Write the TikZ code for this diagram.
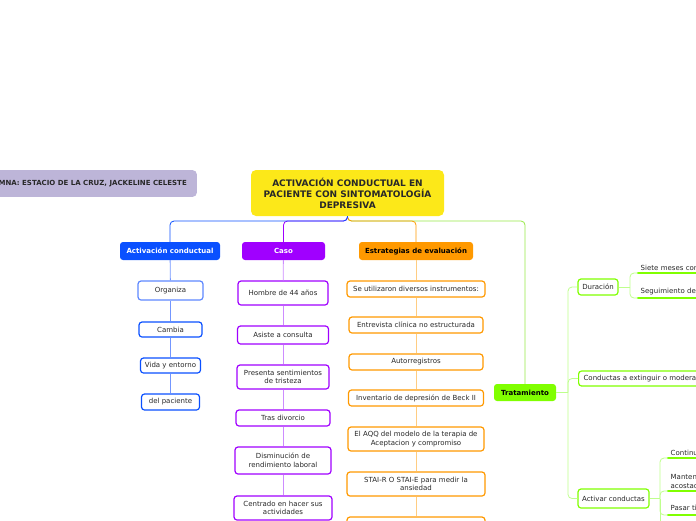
\documentclass[tikz,border=0pt]{standalone}
\usepackage{fontspec}
\setmainfont{DejaVu Sans}
\usepackage{tikz}
\usetikzlibrary{positioning}
\usepackage{xcolor}
\definecolor{rootyellow}{RGB}{252,232,25}
\definecolor{authorlav}{RGB}{189,181,216}
\definecolor{mblue}{RGB}{10,80,255}
\definecolor{mbluelight}{RGB}{115,150,255}
\definecolor{mpurple}{RGB}{160,0,255}
\definecolor{mpurplelight}{RGB}{205,140,255}
\definecolor{morange}{RGB}{255,153,0}
\definecolor{morangelight}{RGB}{255,205,130}
\definecolor{mgreen}{RGB}{128,255,0}
\definecolor{mgreenmid}{RGB}{150,232,70}
\definecolor{mgreenlight}{RGB}{190,255,140}
\definecolor{textgrey}{RGB}{40,40,40}

\begin{document}
\begin{tikzpicture}[x=1pt, y=-1pt,
    rootbox/.style={rectangle, fill=rootyellow, rounded corners=5pt,
        minimum width=193pt, minimum height=46pt, align=center,
        font=\fontsize{9}{11}\selectfont\bfseries, text=textgrey},
    headbox/.style={rectangle, rounded corners=3pt, minimum height=18pt,
        inner sep=2pt, font=\fontsize{7}{8}\selectfont\bfseries},
    leaf/.style={rectangle, draw, fill=white, line width=1.2pt,
        rounded corners=3pt, inner sep=2pt, align=center,
        font=\fontsize{7}{8.6}\selectfont, text=textgrey},
    uline/.style={rectangle, anchor=south west, inner sep=2.5pt,
        text width=70pt, align=left, font=\fontsize{7}{8.6}\selectfont, text=textgrey},
    bar/.style={line width=2.6pt, mgreen, line cap=round},
    bline/.style={mbluelight, line width=0.8pt},
    pline/.style={mpurplelight, line width=0.8pt},
    oline/.style={morangelight, line width=0.8pt},
    gline/.style={mgreenlight, line width=0.8pt, rounded corners=4pt},
    top/.style={line width=0.8pt, rounded corners=4pt}
]
    \useasboundingbox (0,0) rectangle (696,520);
    \clip (0,0) rectangle (696,520);

    % title and author
    \node[rootbox] (root) at (347.5,193) {ACTIVACIÓN CONDUCTUAL EN\\PACIENTE CON SINTOMATOLOGÍA\\DEPRESIVA};
    \node[rectangle, fill=authorlav, rounded corners=4pt, minimum height=17pt,
        inner sep=10pt, anchor=east, font=\fontsize{7}{8}\selectfont\bfseries, text=textgrey]
        (autor) at (197,183.5) {ALUMNA: ESTACIO DE LA CRUZ, JACKELINE CELESTE};

    % main branches
    \node[headbox, fill=mblue, text=white, minimum width=100pt] (act) at (170,251) {Activación conductual};
    \node[headbox, fill=mpurple, text=white, minimum width=83pt] (caso) at (283.5,251) {Caso};
    \node[headbox, fill=morange, text=black, minimum width=114pt] (est) at (416,251) {Estrategias de evaluación};
    \node[headbox, fill=mgreen, text=black, minimum width=62pt, minimum height=17pt] (trat) at (525,392.5) {Tratamiento};

    \draw[top, mgreenmid] (root.south) -- (347.5,221) -| (trat.north);
    \draw[top, morange] (root.south) -- (347.5,221) -| (est.north);
    \draw[top, mpurple] (root.south) -- (347.5,221) -| (caso.north);
    \draw[top, mblue] (root.south) -- (347.5,221) -| (act.north);

    % Activacion conductual
    \node[leaf, draw=mbluelight!80!mblue, minimum width=65pt, minimum height=19pt] (org) at (170.5,290.5) {Organiza};
    \node[leaf, draw=mblue, minimum width=63pt, minimum height=15pt] (cam) at (170.5,329.5) {Cambia};
    \node[leaf, draw=mblue, minimum width=60pt, minimum height=15pt] (vid) at (170.5,365.5) {Vida y entorno};
    \node[leaf, draw=mblue, minimum width=58pt, minimum height=16pt] (pac) at (170.5,402) {del paciente};
    \draw[bline] (act) -- (org);
    \draw[bline] (org) -- (cam);
    \draw[bline] (cam) -- (vid);
    \draw[bline] (vid) -- (pac);

    % Caso
    \node[leaf, draw=mpurple, minimum width=90pt, minimum height=24pt] (hom) at (283,293) {Hombre de 44 años};
    \node[leaf, draw=mpurple, minimum width=91pt, minimum height=18pt] (asi) at (283,335) {Asiste a consulta};
    \node[leaf, draw=mpurple, minimum width=92pt, minimum height=24pt] (pre) at (283,377) {Presenta sentimientos\\de tristeza};
    \node[leaf, draw=mpurple, minimum width=94pt, minimum height=16pt] (div) at (283,418) {Tras divorcio};
    \node[leaf, draw=mpurple, minimum width=96pt, minimum height=27pt] (dis) at (283,460.5) {Disminución de\\rendimiento laboral};
    \node[leaf, draw=mpurple, minimum width=98pt, minimum height=24pt] (cen) at (283,508) {Centrado en hacer sus\\actividades};
    \draw[pline] (caso) -- (hom);
    \draw[pline] (hom) -- (asi);
    \draw[pline] (asi) -- (pre);
    \draw[pline] (pre) -- (div);
    \draw[pline] (div) -- (dis);
    \draw[pline] (dis) -- (cen);

    % Estrategias de evaluacion
    \node[leaf, draw=morange, minimum width=138pt, minimum height=16pt] (ins) at (416,289) {Se utilizaron diversos instrumentos:};
    \node[leaf, draw=morange, minimum width=134pt, minimum height=16pt] (ent) at (416,325) {Entrevista clínica no estructurada};
    \node[leaf, draw=morange, minimum width=134pt, minimum height=16pt] (aut) at (416,362) {Autorregistros};
    \node[leaf, draw=morange, minimum width=135pt, minimum height=16pt] (bec) at (416,398) {Inventario de depresión de Beck II};
    \node[leaf, draw=morange, minimum width=136pt, minimum height=24pt] (aqq) at (416,439) {El AQQ del modelo de la terapia de\\Aceptacion y compromiso};
    \node[leaf, draw=morange, minimum width=138pt, minimum height=24pt] (sta) at (416,484) {STAI-R O STAI-E para medir la\\ansiedad};
    \node[leaf, draw=morange, minimum width=138pt, minimum height=24pt] (sig) at (416,529) {};
    \draw[oline] (est) -- (ins);
    \draw[oline] (ins) -- (ent);
    \draw[oline] (ent) -- (aut);
    \draw[oline] (aut) -- (bec);
    \draw[oline] (bec) -- (aqq);
    \draw[oline] (aqq) -- (sta);
    \draw[oline] (sta) -- (sig);

    % Tratamiento
    \node[leaf, draw=mgreen, minimum width=40pt, minimum height=16pt] (dur) at (598,287) {Duración};
    \node[leaf, draw=mgreen, minimum height=15pt, inner xsep=5pt, anchor=west] (ext) at (578,378.5) {Conductas a extinguir o moderar};
    \node[leaf, draw=mgreen, minimum width=71pt, minimum height=19pt] (acv) at (613.5,498.5) {Activar conductas};
    \coordinate (tj) at (568,392.5);
    \draw[gline] (trat.east) -- (tj);
    \draw[gline] (tj) |- (dur.west);
    \draw[gline] (tj) |- (ext.west);
    \draw[gline] (tj) |- (acv.west);

    \node[uline] (sie) at (638,273) {Siete meses con};
    \node[uline] (seg) at (638,298) {Seguimiento de};
    \draw[bar] (sie.south west) -- (sie.south east);
    \draw[bar] (seg.south west) -- (seg.south east);
    \coordinate (dj) at (630,287);
    \draw[gline] (dur.east) -- (dj);
    \draw[gline] (dj) |- (sie.south west);
    \draw[gline] (dj) |- (seg.south west);

    \node[uline] (con) at (668,458) {Continuar};
    \node[uline] (man) at (668,491) {Mantenerse\\acostado};
    \node[uline] (pas) at (668,515) {Pasar tiempo};
    \draw[bar] (con.south west) -- (con.south east);
    \draw[bar] (man.south west) -- (man.south east);
    \draw[bar] (pas.south west) -- (pas.south east);
    \coordinate (aj) at (660,498.5);
    \coordinate (ajbot) at (660,535);
    \draw[gline] (acv.east) -- (aj);
    \draw[gline] (aj) |- (con.south west);
    \draw[gline] (aj) |- (man.south west);
    \draw[gline] (aj) |- (pas.south west);
    \draw[gline] (aj) -- (ajbot);
\end{tikzpicture}
\end{document}
